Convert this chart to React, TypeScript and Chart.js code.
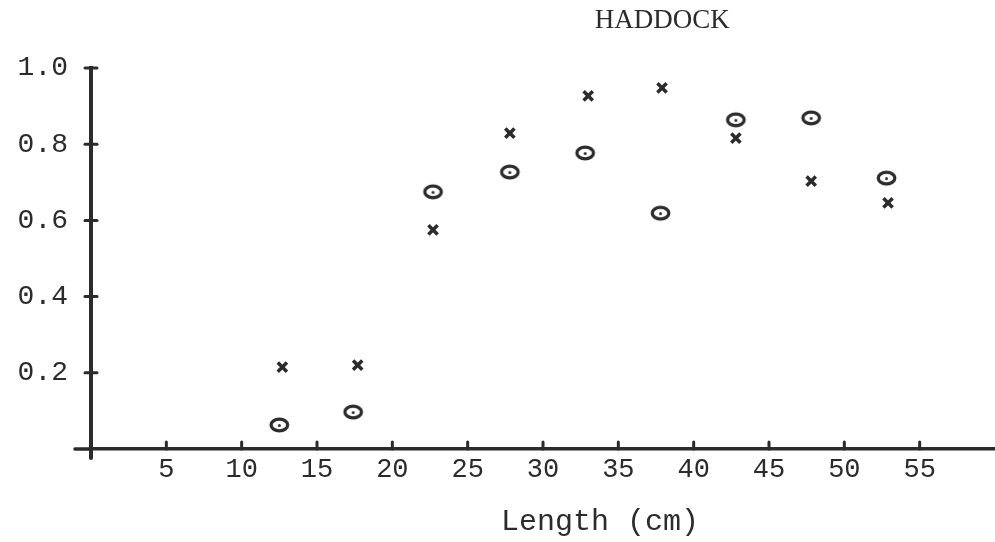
import React, { useEffect, useRef } from "react";
import { Chart, registerables } from "chart.js";

Chart.register(...registerables);

const TITLE = "HADDOCK";
const X_LABEL = "Length (cm)";
const X_TICKS = [5, 10, 15, 20, 25, 30, 35, 40, 45, 50, 55];
const Y_TICKS = [0.2, 0.4, 0.6, 0.8, 1.0];

const crossLengths = [12.7, 17.7, 22.7, 27.8, 33.0, 37.9, 42.8, 47.8, 52.9];
const crossValues = [0.215, 0.22, 0.575, 0.829, 0.927, 0.948, 0.816, 0.703, 0.646];

const circleLengths = [12.5, 17.4, 22.7, 27.8, 32.8, 37.8, 42.8, 47.8, 52.8];
const circleValues = [0.063, 0.097, 0.675, 0.727, 0.777, 0.619, 0.864, 0.869, 0.711];

const INK = "#2b2b2b";
const MONO = '"Liberation Mono", "DejaVu Sans Mono", monospace';
const SERIF = '"Liberation Serif", "DejaVu Serif", serif';

function makeCircleMarker(): HTMLCanvasElement {
  const c = document.createElement("canvas");
  c.width = 23;
  c.height = 18;
  const g = c.getContext("2d")!;
  g.strokeStyle = INK;
  g.fillStyle = INK;
  g.lineWidth = 3.2;
  g.beginPath();
  g.ellipse(11.5, 9, 8.3, 5.8, 0, 0, Math.PI * 2);
  g.stroke();
  g.beginPath();
  g.arc(11.5, 9.5, 1.5, 0, Math.PI * 2);
  g.fill();
  return c;
}

const decorPlugin = {
  id: "decor",
  afterDraw(chart: any) {
    const { ctx, chartArea } = chart;
    const x = chart.scales.x;
    const y = chart.scales.y;
    ctx.save();
    ctx.strokeStyle = INK;
    ctx.lineCap = "round";
    // axis overhangs
    ctx.lineWidth = 3.5;
    ctx.beginPath();
    ctx.moveTo(chartArea.left - 16, chartArea.bottom);
    ctx.lineTo(chartArea.left, chartArea.bottom);
    ctx.stroke();
    ctx.lineWidth = 4;
    ctx.beginPath();
    ctx.moveTo(chartArea.left, chartArea.bottom);
    ctx.lineTo(chartArea.left, chartArea.bottom + 9);
    ctx.stroke();
    // x tick marks (pointing up)
    ctx.lineWidth = 3;
    x.ticks.forEach((t: any) => {
      const px = x.getPixelForValue(t.value);
      ctx.beginPath();
      ctx.moveTo(px, chartArea.bottom);
      ctx.lineTo(px, chartArea.bottom - 7);
      ctx.stroke();
    });
    // y tick marks (crossing)
    y.ticks.forEach((t: any) => {
      const py = y.getPixelForValue(t.value);
      ctx.beginPath();
      ctx.moveTo(chartArea.left - 6, py);
      ctx.lineTo(chartArea.left + 6, py);
      ctx.stroke();
    });
    // titles
    ctx.fillStyle = INK;
    ctx.textAlign = "center";
    ctx.textBaseline = "middle";
    ctx.font = `27px ${SERIF}`;
    ctx.fillText(TITLE, chartArea.left + chartArea.width * 0.632, 21);
    ctx.font = `30px ${MONO}`;
    ctx.fillText(X_LABEL, chartArea.left + chartArea.width * 0.563, chart.height - 20);
    ctx.restore();
  },
};

export default function App() {
  const ref = useRef<HTMLCanvasElement | null>(null);

  useEffect(() => {
    if (!ref.current) return;
    const circleMarker = makeCircleMarker();
    const chart = new Chart(ref.current, {
      type: "scatter",
      data: {
        datasets: [
          {
            label: "x",
            data: crossLengths.map((v, i) => ({ x: v, y: crossValues[i] })),
            pointStyle: "crossRot",
            pointRadius: 6.5,
            pointBorderWidth: 3.5,
            borderColor: INK,
            backgroundColor: INK,
            showLine: false,
          },
          {
            label: "o",
            data: circleLengths.map((v, i) => ({ x: v, y: circleValues[i] })),
            pointStyle: circleMarker as any,
            pointRadius: 8,
            borderColor: INK,
            backgroundColor: INK,
            showLine: false,
          },
        ],
      },
      options: {
        responsive: false,
        animation: false,
        events: [],
        clip: false as any,
        layout: { autoPadding: false, padding: { top: 68, left: 0, right: 0, bottom: 0 } },
        plugins: {
          legend: { display: false },
          tooltip: { enabled: false },
          title: { display: false },
        },
        scales: {
          x: {
            type: "linear",
            min: 0,
            max: 60,
            afterBuildTicks: (s: any) => {
              s.ticks = X_TICKS.map((v) => ({ value: v }));
            },
            afterFit: (s: any) => {
              s.height = 93;
              s.paddingLeft = 0;
              s.paddingRight = 0;
            },
            grid: { display: false, drawTicks: false },
            border: { display: true, color: INK, width: 3.5 },
            ticks: {
              color: INK,
              font: { family: MONO, size: 27 },
              padding: 5,
              maxRotation: 0,
              autoSkip: false,
              callback: (v: any) => String(v),
            },
          },
          y: {
            type: "linear",
            min: 0,
            max: 1.0,
            afterBuildTicks: (s: any) => {
              s.ticks = Y_TICKS.map((v) => ({ value: v }));
            },
            afterFit: (s: any) => {
              s.width = 91;
            },
            grid: { display: false, drawTicks: false },
            border: { display: true, color: INK, width: 4 },
            ticks: {
              color: INK,
              font: { family: MONO, size: 28 },
              padding: 23,
              autoSkip: false,
              callback: (v: any) => Number(v).toFixed(1),
            },
          },
        },
      },
      plugins: [decorPlugin],
    });
    return () => chart.destroy();
  }, []);

  return (
    <div style={{ position: "absolute", left: 0, top: 0, width: 995, height: 542, background: "#fff" }}>
      <canvas ref={ref} width={995} height={542} />
    </div>
  );
}
